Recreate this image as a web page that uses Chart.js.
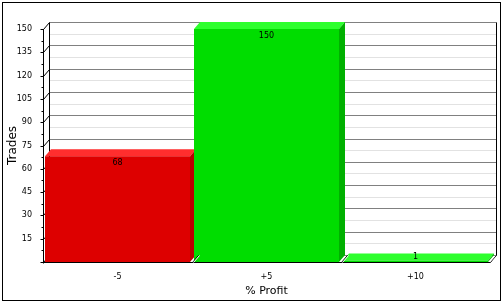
<!DOCTYPE html>
<html>
<head>
<meta charset="utf-8">
<script src="https://cdn.jsdelivr.net/npm/chart.js@4.4.0/dist/chart.umd.min.js"></script>
<style>
  body { margin: 0; background: #fff; }
  canvas { display: block; }
</style>
</head>
<body>
<canvas id="tradesChart" width="503" height="303"></canvas>
<script>
const categories = ['-5', '+5', '+10'];
const trades = [68, 150, 1];
const yTicks = [0, 15, 30, 45, 60, 75, 90, 105, 120, 135, 150];

const frontColors = ['#dd0000', '#00dd00', '#00dd00'];
const topColors = ['#ff2e2e', '#2eff2e', '#2eff2e'];
const sideColors = ['#bb0000', '#00b000', '#00b000'];

// depth of the fake 3d box
const DX = 6, DY = 7;

function line(ctx, x1, y1, x2, y2, color) {
    ctx.strokeStyle = color;
    ctx.beginPath();
    ctx.moveTo(x1, y1);
    ctx.lineTo(x2, y2);
    ctx.stroke();
}

function poly(ctx, pts, color) {
    ctx.fillStyle = color;
    ctx.beginPath();
    ctx.moveTo(pts[0][0], pts[0][1]);
    for (let i = 1; i < pts.length; i++) ctx.lineTo(pts[i][0], pts[i][1]);
    ctx.closePath();
    ctx.fill();
}

const box3d = {
    id: 'box3d',
    beforeDraw(chart) {
        const ctx = chart.ctx;
        ctx.save();
        ctx.fillStyle = '#fff';
        ctx.fillRect(0, 0, chart.width, chart.height);
        ctx.restore();
    },
    beforeDatasetsDraw(chart) {
        const {ctx, chartArea: a, scales: {y}} = chart;
        const L = Math.round(a.left) + 0.5;
        const R = Math.round(a.right) + 0.5;
        const vals = y.ticks.map(t => t.value);
        ctx.save();
        ctx.lineWidth = 1;
        // minor grid on back wall
        for (let i = 0; i < vals.length - 1; i++) {
            const py = Math.round(y.getPixelForValue((vals[i] + vals[i + 1]) / 2) - DY) + 0.5;
            line(ctx, L + DX, py, R + DX, py, '#e2e2e2');
        }
        // major grid + left wall diagonals
        vals.forEach(v => {
            const py = Math.round(y.getPixelForValue(v) - DY) + 0.5;
            line(ctx, L + DX, py, R + DX, py, '#808080');
            line(ctx, L, py + DY, L + DX, py, '#000');
        });
        const yTop = Math.round(y.getPixelForValue(vals[vals.length - 1]) - DY) + 0.5;
        const yBot = Math.round(y.getPixelForValue(0) - DY) + 0.5;
        line(ctx, L + DX, yTop, L + DX, yBot, '#000');
        line(ctx, R + DX, yTop, R + DX, yBot, '#000');

        // top and side faces, the next bar's front covers the side
        chart.getDatasetMeta(0).data.forEach((bar, i) => {
            const p = bar.getProps(['x', 'y', 'base', 'width'], true);
            const x0 = p.x - p.width / 2, x1 = p.x + p.width / 2;
            poly(ctx, [[x0, p.y], [x1, p.y], [x1 + DX, p.y - DY], [x0 + DX, p.y - DY]], topColors[i]);
            poly(ctx, [[x1, p.y], [x1 + DX, p.y - DY], [x1 + DX, p.base - DY], [x1, p.base]], sideColors[i]);
        });
        ctx.restore();
    },
    afterDatasetsDraw(chart) {
        const {ctx, chartArea: a, scales: {x, y}} = chart;
        const L = Math.round(a.left) + 0.5;
        const R = Math.round(a.right) + 0.5;
        const B = Math.round(a.bottom) + 0.5;
        const vals = y.ticks.map(t => t.value);
        ctx.save();
        ctx.lineWidth = 1;
        // front axes
        line(ctx, L, Math.round(a.top), L, B + 1, '#000');
        line(ctx, L, B, R, B, '#000');
        // ticks, major and minor
        vals.forEach((v, i) => {
            const py = Math.round(y.getPixelForValue(v)) + 0.5;
            line(ctx, L - 3, py, L, py, '#000');
            if (i < vals.length - 1) {
                const pm = Math.round(y.getPixelForValue((v + vals[i + 1]) / 2)) + 0.5;
                line(ctx, L - 2, pm, L, pm, '#000');
            }
        });
        // floor edges at category boundaries
        const w = (a.right - a.left) / categories.length;
        for (let k = 1; k <= categories.length; k++) {
            const bx = Math.round(a.left + k * w) + 0.5;
            line(ctx, bx, B, bx + DX, B - DY, '#000');
            line(ctx, bx + 1, B, bx + DX + 1, B - DY, '#fff');
        }
        // value labels
        ctx.fillStyle = '#000';
        ctx.font = '8px "DejaVu Sans"';
        ctx.textAlign = 'center';
        ctx.textBaseline = 'middle';
        chart.getDatasetMeta(0).data.forEach((bar, i) => {
            const p = bar.getProps(['x', 'y', 'base'], true);
            ctx.fillText(String(trades[i]), p.x, Math.min(p.y + 7, p.base - 5));
        });
        ctx.restore();
    },
    afterDraw(chart) {
        const ctx = chart.ctx;
        ctx.save();
        ctx.strokeStyle = '#000';
        ctx.lineWidth = 1;
        ctx.strokeRect(2.5, 2.5, 498, 298);
        ctx.restore();
    }
};

Chart.defaults.font.family = '"DejaVu Sans"';
Chart.defaults.color = '#000';

new Chart(document.getElementById('tradesChart'), {
    type: 'bar',
    data: {
        labels: categories,
        datasets: [{
            data: trades,
            backgroundColor: frontColors,
            borderWidth: 0,
            categoryPercentage: 1,
            barPercentage: 145 / 149
        }]
    },
    options: {
        responsive: false,
        animation: false,
        layout: {padding: {top: 29, right: 13, left: 0, bottom: 0}},
        plugins: {legend: {display: false}, tooltip: {enabled: false}},
        scales: {
            x: {
                grid: {display: false, drawTicks: false},
                border: {display: false},
                ticks: {font: {size: 8}, padding: 10},
                title: {display: true, text: '% Profit', font: {size: 11}, padding: {top: 0, bottom: 5}},
                afterFit: s => { s.height = 41; }
            },
            y: {
                min: 0,
                max: 150,
                afterBuildTicks: s => { s.ticks = yTicks.map(v => ({value: v})); },
                grid: {display: false, drawTicks: false},
                border: {display: false},
                ticks: {font: {size: 8}, padding: 11, callback: v => v === 0 ? '' : v},
                title: {display: true, text: 'Trades', font: {size: 12}, padding: {top: 6, bottom: 0}},
                afterFit: s => { s.width = 43; }
            }
        }
    },
    plugins: [box3d]
});
</script>
</body>
</html>
